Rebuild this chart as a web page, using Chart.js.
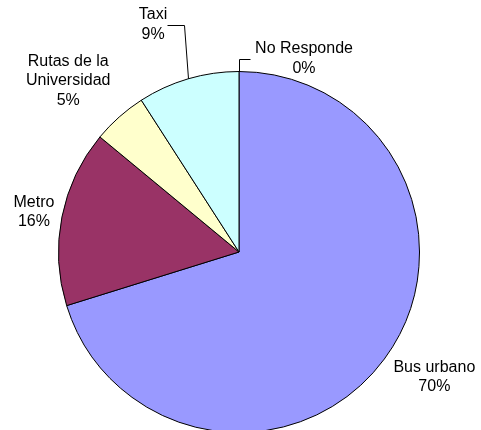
<!DOCTYPE html>
<html>
<head>
<meta charset="utf-8">
<script src="https://cdn.jsdelivr.net/npm/chart.js@4/dist/chart.umd.min.js"></script>
<style>
  html, body { margin: 0; padding: 0; background: #fff; overflow: hidden; }
  #wrap { width: 481px; height: 430px; overflow: hidden; }
</style>
</head>
<body>
<div id="wrap"><canvas id="pie" width="481" height="440"></canvas></div>
<script>
// Data
const categories = ['Bus urbano', 'Metro', 'Rutas de la\nUniversidad', 'Taxi', 'No Responde'];
const shares = [70.2, 15.8, 4.9, 9.1, 0];
const sliceColors = ['#9999FF', '#993366', '#FFFFCC', '#CCFFFF', '#FFFFFF'];

// Where each label sits relative to the outer edge of its slice (px)
const labelOffsets = [[50, 18], [-28, -5], [-51, -36], [-35, -54], [65, -13]];
// Leader lines: [vertical x shift, y of elbow relative to label centre, horizontal end shift]
const leaders = { 3: [-4, 0, -17], 4: [0, 0, 11] };

const total = shares.reduce((a, b) => a + b, 0);

const labelPlugin = {
    id: 'sliceLabels',
    afterDraw(chart) {
        const ctx = chart.ctx;
        const meta = chart.getDatasetMeta(0);
        ctx.save();
        ctx.font = '16px "Liberation Sans", Arial, sans-serif';
        ctx.fillStyle = '#000';
        ctx.textAlign = 'center';
        ctx.textBaseline = 'middle';
        meta.data.forEach((arc, i) => {
            const mid = (arc.startAngle + arc.endAngle) / 2;
            const ex = arc.x + Math.cos(mid) * arc.outerRadius;
            const ey = arc.y + Math.sin(mid) * arc.outerRadius;
            const lx = ex + labelOffsets[i][0];
            const ly = ey + labelOffsets[i][1];
            const pct = Math.round(shares[i] / total * 100) + '%';
            const lines = categories[i].split('\n').concat([pct]);
            const lh = 19.5;
            const top = ly - (lines.length - 1) * lh / 2;
            lines.forEach((t, k) => ctx.fillText(t, lx, top + k * lh));

            if (leaders[i]) {
                const [vx, , hx] = leaders[i];
                const elbowY = ly;
                ctx.strokeStyle = '#000';
                ctx.lineWidth = 1;
                ctx.beginPath();
                ctx.moveTo(Math.round(ex) + 0.5, ey);
                ctx.lineTo(Math.round(ex + vx) + 0.5, Math.round(elbowY) + 0.5);
                ctx.lineTo(Math.round(ex + vx + hx) + 0.5, Math.round(elbowY) + 0.5);
                ctx.stroke();
            }
        });
        ctx.restore();
    }
};

new Chart(document.getElementById('pie'), {
    type: 'pie',
    data: {
        labels: categories,
        datasets: [{
            data: shares,
            backgroundColor: sliceColors,
            borderColor: '#000',
            borderWidth: 1
        }]
    },
    options: {
        responsive: false,
        animation: false,
        layout: { padding: { left: 58, right: 61, top: 71, bottom: 7 } },
        plugins: {
            legend: { display: false },
            tooltip: { enabled: false }
        }
    },
    plugins: [labelPlugin]
});
</script>
</body>
</html>
